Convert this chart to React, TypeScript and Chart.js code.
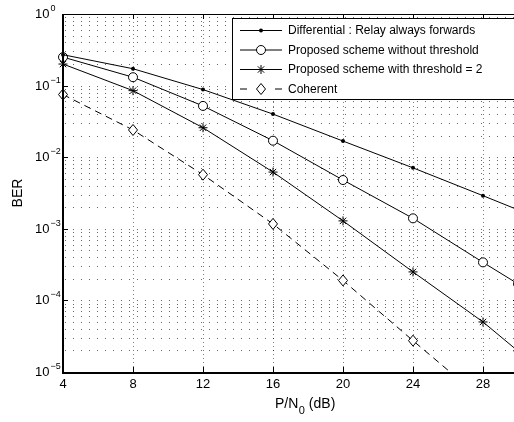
import React, { useEffect, useRef } from 'react';
import { Chart, registerables } from 'chart.js';

Chart.register(...registerables);

// ---- data ----
const snrDb = [4, 8, 12, 16, 20, 24, 28, 30];
const berDifferential = [0.27, 0.172, 0.088, 0.04, 0.0168, 0.0071, 0.0029, 0.00184];
const berNoThreshold = [0.25, 0.131, 0.052, 0.017, 0.0048, 0.0014, 0.00034, 0.00017];
const berThreshold = [0.2, 0.085, 0.0258, 0.0062, 0.00129, 0.00025, 0.00005, 0.0000196];
const snrCoherent = [4, 8, 12, 16, 20, 24, 28];
const berCoherent = [0.075, 0.024, 0.0057, 0.00117, 0.00019, 0.0000274, 0.0000041];

const xTicks = [4, 8, 12, 16, 20, 24, 28];
const xTickLabels = ['4', '8', '12', '16', '20', '24', '28'];
const yExponents = [0, -1, -2, -3, -4, -5];
const yExponentLabels = ['0', '\u22121', '\u22122', '\u22123', '\u22124', '\u22125'];
const minorMantissas = [2, 3, 4, 5, 6, 7, 8, 9];

const legendLabels = [
  'Differential : Relay always forwards',
  'Proposed scheme without threshold',
  'Proposed scheme with threshold = 2',
  'Coherent',
];

const FONT = '"Liberation Sans", Arial, Helvetica, sans-serif';

function drawDiamond(ctx: CanvasRenderingContext2D, x: number, y: number) {
  ctx.beginPath();
  ctx.moveTo(x, y - 5.5);
  ctx.lineTo(x + 4.5, y);
  ctx.lineTo(x, y + 5.5);
  ctx.lineTo(x - 4.5, y);
  ctx.closePath();
  ctx.fillStyle = '#fff';
  ctx.fill();
  ctx.strokeStyle = '#000';
  ctx.lineWidth = 1;
  ctx.setLineDash([]);
  ctx.stroke();
}

function drawStar(ctx: CanvasRenderingContext2D, x: number, y: number, r: number) {
  const d = r * Math.SQRT1_2;
  ctx.beginPath();
  ctx.moveTo(x - r, y);
  ctx.lineTo(x + r, y);
  ctx.moveTo(x, y - r);
  ctx.lineTo(x, y + r);
  ctx.moveTo(x - d, y - d);
  ctx.lineTo(x + d, y + d);
  ctx.moveTo(x - d, y + d);
  ctx.lineTo(x + d, y - d);
  ctx.strokeStyle = '#000';
  ctx.lineWidth = 1;
  ctx.stroke();
}

export default function App() {
  const ref = useRef<HTMLCanvasElement | null>(null);

  useEffect(() => {
    const canvas = ref.current;
    if (!canvas) return;

    const pts = (xs: number[], ys: number[]) => xs.map((x, i) => ({ x, y: ys[i] }));

    const framePlugin = {
      id: 'matlabFrame',
      beforeDatasetsDraw(chart: any) {
        const { ctx, chartArea: a, scales } = chart;
        const xs = scales.x;
        const ys = scales.y;
        ctx.save();
        ctx.lineWidth = 1;
        // vertical grid
        ctx.strokeStyle = 'rgba(0,0,0,0.5)';
        ctx.setLineDash([1, 3]);
        xTicks.forEach((v) => {
          const px = Math.round(xs.getPixelForValue(v)) + 0.5;
          ctx.beginPath();
          ctx.moveTo(px, a.top);
          ctx.lineTo(px, a.bottom);
          ctx.stroke();
        });
        // horizontal grid (major + minor log)
        ctx.strokeStyle = 'rgba(0,0,0,0.6)';
        ctx.setLineDash([1, 7]);
        const yVals: number[] = [];
        yExponents.forEach((e) => {
          yVals.push(Math.pow(10, e));
          if (e > yExponents[yExponents.length - 1]) {
            minorMantissas.forEach((m) => yVals.push(m * Math.pow(10, e - 1)));
          }
        });
        yVals.forEach((v) => {
          const py = Math.round(ys.getPixelForValue(v)) + 0.5;
          ctx.beginPath();
          ctx.moveTo(a.left + 2, py);
          ctx.lineTo(a.right, py);
          ctx.stroke();
        });
        ctx.restore();
      },
      afterDatasetsDraw(chart: any) {
        const { ctx, chartArea: a, scales } = chart;
        const xs = scales.x;
        const ys = scales.y;
        ctx.save();
        ctx.setLineDash([]);
        ctx.strokeStyle = '#000';

        // coherent diamonds
        const meta = chart.getDatasetMeta(3);
        meta.data.forEach((el: any) => {
          if (el.y <= a.bottom + 0.5) drawDiamond(ctx, el.x, el.y);
        });

        // ticks
        ctx.setLineDash([]);
        ctx.lineWidth = 1;
        ctx.strokeStyle = '#000';
        xTicks.forEach((v) => {
          const px = Math.round(xs.getPixelForValue(v)) + 0.5;
          ctx.beginPath();
          ctx.moveTo(px, a.bottom);
          ctx.lineTo(px, a.bottom - 5);
          ctx.moveTo(px, a.top);
          ctx.lineTo(px, a.top + 5);
          ctx.stroke();
        });
        yExponents.forEach((e) => {
          const py = Math.round(ys.getPixelForValue(Math.pow(10, e))) + 0.5;
          ctx.beginPath();
          ctx.moveTo(a.left, py);
          ctx.lineTo(a.left + 5, py);
          ctx.moveTo(a.right, py);
          ctx.lineTo(a.right - 5, py);
          ctx.stroke();
        });

        // frame
        ctx.lineWidth = 1;
        ctx.beginPath();
        ctx.moveTo(a.left, a.top + 0.5);
        ctx.lineTo(a.right, a.top + 0.5);
        ctx.moveTo(a.right - 0.5, a.top);
        ctx.lineTo(a.right - 0.5, a.bottom);
        ctx.stroke();
        ctx.lineWidth = 2;
        ctx.beginPath();
        ctx.moveTo(a.left, a.top);
        ctx.lineTo(a.left, a.bottom + 1);
        ctx.lineTo(a.right, a.bottom + 1);
        ctx.stroke();

        // x tick labels
        ctx.fillStyle = '#000';
        ctx.font = `13px ${FONT}`;
        ctx.textAlign = 'center';
        ctx.textBaseline = 'alphabetic';
        xTicks.forEach((v, i) => {
          const px = xs.getPixelForValue(v);
          ctx.fillText(xTickLabels[i], px, 387.5);
        });

        // y tick labels: 10^e
        yExponents.forEach((e, i) => {
          const py = ys.getPixelForValue(Math.pow(10, e));
          ctx.font = `13px ${FONT}`;
          ctx.textAlign = 'right';
          ctx.textBaseline = 'middle';
          ctx.fillText('10', 49.5, py + 0.5);
          ctx.font = `9px ${FONT}`;
          ctx.textAlign = 'left';
          ctx.fillText(yExponentLabels[i], 50.5, py - 5.5);
        });

        // axis titles
        ctx.font = `14px ${FONT}`;
        ctx.textAlign = 'left';
        ctx.textBaseline = 'alphabetic';
        let tx = 275;
        ctx.fillText('P/N', tx, 408);
        tx += ctx.measureText('P/N').width;
        ctx.font = `11px ${FONT}`;
        ctx.fillText('0', tx + 0.5, 413.5);
        tx += ctx.measureText('0').width + 0.5;
        ctx.font = `14px ${FONT}`;
        ctx.fillText(' (dB)', tx, 408);

        ctx.save();
        ctx.translate(22, 193);
        ctx.rotate(-Math.PI / 2);
        ctx.textAlign = 'center';
        ctx.textBaseline = 'alphabetic';
        ctx.font = `14px ${FONT}`;
        ctx.fillText('BER', 0, 0);
        ctx.restore();

        // legend
        const lx = 232.5;
        const ly = 18.5;
        ctx.fillStyle = '#fff';
        ctx.fillRect(lx, ly, 300, 81);
        ctx.strokeStyle = '#000';
        ctx.lineWidth = 1;
        ctx.strokeRect(lx, ly, 300, 81);
        const rows = [30.5, 50, 69.5, 89];
        ctx.font = `12px ${FONT}`;
        ctx.textAlign = 'left';
        ctx.textBaseline = 'middle';
        rows.forEach((ry, i) => {
          ctx.strokeStyle = '#000';
          ctx.lineWidth = 1;
          ctx.setLineDash([]);
          ctx.beginPath();
          if (i < 3) {
            ctx.moveTo(240, ry);
            ctx.lineTo(282, ry);
          } else {
            ctx.moveTo(240, ry);
            ctx.lineTo(247, ry);
            ctx.moveTo(275, ry);
            ctx.lineTo(282, ry);
          }
          ctx.stroke();
          if (i === 0) {
            ctx.beginPath();
            ctx.arc(261, ry, 2, 0, Math.PI * 2);
            ctx.fillStyle = '#000';
            ctx.fill();
          } else if (i === 1) {
            ctx.beginPath();
            ctx.arc(261, ry, 4.5, 0, Math.PI * 2);
            ctx.fillStyle = '#fff';
            ctx.fill();
            ctx.stroke();
          } else if (i === 2) {
            drawStar(ctx, 261, ry, 4.5);
          } else {
            drawDiamond(ctx, 261, ry);
          }
          ctx.fillStyle = '#000';
          ctx.fillText(legendLabels[i], 288, ry + 0.5);
        });

        ctx.restore();
      },
    };

    const chart = new Chart(canvas, {
      type: 'line',
      data: {
        datasets: [
          {
            label: legendLabels[0],
            data: pts(snrDb, berDifferential),
            borderColor: '#000',
            borderWidth: 1,
            pointStyle: 'circle',
            pointRadius: 2,
            pointBackgroundColor: '#000',
            pointBorderColor: '#000',
            pointBorderWidth: 0,
            tension: 0,
            clip: false,
          },
          {
            label: legendLabels[1],
            data: pts(snrDb, berNoThreshold),
            borderColor: '#000',
            borderWidth: 1,
            pointStyle: 'circle',
            pointRadius: 4.5,
            pointBackgroundColor: '#fff',
            pointBorderColor: '#000',
            pointBorderWidth: 1,
            tension: 0,
            clip: false,
          },
          {
            label: legendLabels[2],
            data: pts(snrDb, berThreshold),
            borderColor: '#000',
            borderWidth: 1,
            pointStyle: 'star',
            pointRadius: 4.5,
            pointBorderColor: '#000',
            pointBorderWidth: 1,
            tension: 0,
            clip: false,
          },
          {
            label: legendLabels[3],
            data: pts(snrCoherent, berCoherent),
            borderColor: '#000',
            borderWidth: 1,
            borderDash: [7, 5],
            pointRadius: 0,
            tension: 0,
            clip: { left: 10, top: 10, right: 10, bottom: 0 },
          },
        ],
      },
      options: {
        responsive: false,
        animation: false,
        devicePixelRatio: 1,
        layout: { padding: { left: 63, top: 14, right: 22, bottom: 50 } },
        plugins: { legend: { display: false }, tooltip: { enabled: false } },
        events: [],
        scales: {
          x: { type: 'linear', min: 4, max: 30, display: false },
          y: { type: 'logarithmic', min: 1e-5, max: 1, display: false },
        },
      },
      plugins: [framePlugin],
    });

    return () => chart.destroy();
  }, []);

  return (
    <div
      style={{
        position: 'fixed',
        left: 0,
        top: 0,
        width: 514,
        height: 422,
        overflow: 'hidden',
        background: '#fff',
      }}
    >
      <canvas ref={ref} width={540} height={422} style={{ width: 540, height: 422, display: 'block' }} />
    </div>
  );
}
